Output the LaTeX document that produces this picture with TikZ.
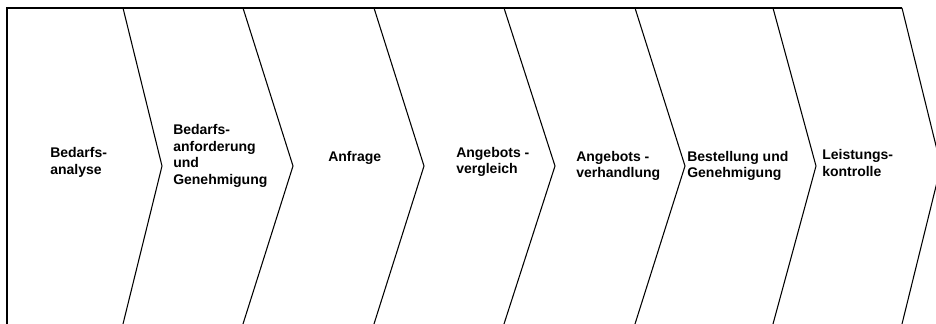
\documentclass[tikz,border=0pt]{standalone}
\usepackage{fontspec}
\setmainfont{Liberation Sans}
\begin{document}
\begin{tikzpicture}[x=0.75pt,y=-0.75pt,
  outline/.style={draw=black,line width=0.8pt,line join=miter},
  lbl/.style={anchor=west,align=left,inner sep=0pt,font=\bfseries\fontsize{10.5}{12.6}\selectfont}]
\useasboundingbox (0,0) rectangle (936,324);
\clip (0,0) rectangle (936,324);
% frame: top edge and left edge
\draw[outline] (7,330) -- (7,8) -- (902,8);
% chevron dividers
\foreach \t/\p in {123/162, 243/293, 374/424, 504/555, 635/685, 773/816, 902/941}{
  \draw[outline] (\t,8) -- (\p,166) -- (\t,324);
}
\node[lbl] (n1) at (50,162) {Bedarfs-\\analyse};
\node[lbl] (n2) at (173,156) {Bedarfs-\\anforderung\\und\\Genehmigung};
\node[lbl] (n3) at (328,158) {Anfrage};
\node[lbl] (n4) at (456,162) {Angebots -\\vergleich};
\node[lbl] (n5) at (576,166) {Angebots -\\verhandlung};
\node[lbl] (n6) at (687,166) {Bestellung und\\Genehmigung};
\node[lbl] (n7) at (822,163) {Leistungs-\\kontrolle};
\end{tikzpicture}
\end{document}
